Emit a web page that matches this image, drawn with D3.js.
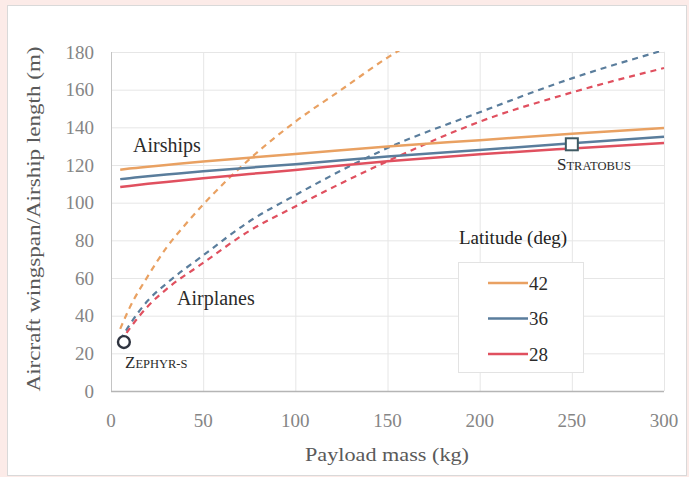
<!DOCTYPE html>
<html>
<head>
<meta charset="utf-8">
<script src="https://cdn.jsdelivr.net/npm/d3@7"></script>
<style>
  body { margin: 0; background: #fcebe8; }
  svg { display: block; font-family: 'Liberation Serif', 'Times New Roman', serif; }
</style>
</head>
<body>
<svg id="chart"></svg>
<script>
const width = 689;
const height = 477;

// data (payload in kg, length in m)
const latitudes = ['42', '36', '28'];
const colors = ['#e9a162', '#5a7d9c', '#e0505f'];

const payload = [5, 10, 20, 30, 50, 75, 100, 150, 200, 250, 300];
const airship42 = [117.5, 118.1, 119.1, 120, 121.8, 123.9, 125.8, 129.8, 133.2, 136.6, 139.7];
const airship36 = [112.5, 113, 114, 114.9, 116.7, 118.6, 120.4, 124.5, 128, 131.5, 135];
const airship28 = [108.3, 108.9, 110, 111, 113, 115.2, 117.4, 122, 125.7, 128.8, 131.7];

const planePayload42 = [5, 10, 20, 30, 40, 50, 75, 100, 125, 150, 160];
const airplane42 = [33, 44, 61, 76, 88, 99, 123, 143, 160, 177, 183];
const planePayload = [5, 10, 20, 30, 50, 75, 100, 150, 200, 250, 300];
const airplane36 = [27, 35, 48, 57, 72, 90, 104, 129, 148, 166, 181];
const airplane28 = [26, 33, 45, 54, 68, 85, 98, 122, 143, 158.5, 171.5];

const xTicks = [0, 50, 100, 150, 200, 250, 300];
const yTicks = [0, 20, 40, 60, 80, 100, 120, 140, 160, 180];

const zephyr = { name: 'Zephyr-S', x: 7, y: 26 };
const stratobus = { name: 'Stratobus', x: 250, y: 131 };

// scales
const x = d3.scaleLinear().domain([0, 300]).range([111, 664]);
const y = d3.scaleLinear().domain([0, 180]).range([391, 52]);

const svg = d3.select('#chart').attr('width', width).attr('height', height);

// page background panel
svg.append('rect')
  .attr('x', 0).attr('y', 0).attr('width', width).attr('height', height)
  .attr('fill', '#fcebe8');
svg.append('rect')
  .attr('x', 7.5).attr('y', 5.5).attr('width', 679).attr('height', 470)
  .attr('fill', '#ffffff')
  .attr('stroke', '#d9d9d9');

// grid
svg.append('g')
  .selectAll('line')
  .data(yTicks.slice(1))
  .join('line')
    .attr('x1', x(0)).attr('x2', x(300))
    .attr('y1', d => y(d) + 0.5).attr('y2', d => y(d) + 0.5)
    .attr('stroke', '#e6e6e6');
svg.append('g')
  .selectAll('line')
  .data(xTicks.slice(1))
  .join('line')
    .attr('x1', d => x(d) + 0.5).attr('x2', d => x(d) + 0.5)
    .attr('y1', y(0)).attr('y2', y(180))
    .attr('stroke', '#e6e6e6');

// axes lines
svg.append('line')
  .attr('x1', x(0) + 0.5).attr('x2', x(0) + 0.5)
  .attr('y1', y(0)).attr('y2', y(180))
  .attr('stroke', '#c4c4c4');
svg.append('line')
  .attr('x1', x(0)).attr('x2', x(300))
  .attr('y1', y(0) + 0.5).attr('y2', y(0) + 0.5)
  .attr('stroke', '#b5b5b5')
  .attr('stroke-width', 1.5);

// tick labels
svg.append('g')
  .selectAll('text')
  .data(yTicks)
  .join('text')
    .attr('x', x(0) - 17)
    .attr('y', d => y(d))
    .attr('dy', '0.35em')
    .attr('text-anchor', 'end')
    .attr('fill', '#858585')
    .style('font-size', '19px')
    .text(d => d);
svg.append('g')
  .selectAll('text')
  .data(xTicks)
  .join('text')
    .attr('x', d => x(d))
    .attr('y', 427)
    .attr('text-anchor', 'middle')
    .attr('fill', '#858585')
    .style('font-size', '19px')
    .text(d => d);

// axis titles
svg.append('text')
  .attr('x', 387)
  .attr('y', 461)
  .attr('text-anchor', 'middle')
  .attr('fill', '#5a5a5a')
  .style('font-size', '19px')
  .attr('textLength', 164)
  .attr('lengthAdjust', 'spacingAndGlyphs')
  .text('Payload mass (kg)');
svg.append('text')
  .attr('transform', 'translate(40, 219) rotate(-90)')
  .attr('text-anchor', 'middle')
  .attr('fill', '#5a5a5a')
  .style('font-size', '19px')
  .attr('textLength', 345)
  .attr('lengthAdjust', 'spacingAndGlyphs')
  .text('Aircraft wingspan/Airship  length (m)');

// curves
svg.append('clipPath').attr('id', 'plot-clip')
  .append('rect')
  .attr('x', x(0)).attr('y', y(180) - 1)
  .attr('width', x(300) - x(0) + 2).attr('height', y(0) - y(180) + 1);

const line = d3.line()
  .x(d => x(d[0]))
  .y(d => y(d[1]))
  .curve(d3.curveMonotoneX);

const airships = [airship42, airship36, airship28];
const airplanes = [
  d3.zip(planePayload42, airplane42),
  d3.zip(planePayload, airplane36),
  d3.zip(planePayload, airplane28)
];

const curves = svg.append('g').attr('clip-path', 'url(#plot-clip)');

curves.selectAll('.plane')
  .data(airplanes)
  .join('path')
    .classed('plane', true)
    .attr('fill', 'none')
    .attr('stroke', (d, i) => colors[i])
    .attr('stroke-width', 2.2)
    .attr('stroke-dasharray', '6,5')
    .attr('d', line);

curves.selectAll('.ship')
  .data(airships.map(s => d3.zip(payload, s)))
  .join('path')
    .classed('ship', true)
    .attr('fill', 'none')
    .attr('stroke', (d, i) => colors[i])
    .attr('stroke-width', 2.5)
    .attr('d', line);

// markers
svg.append('path')
  .attr('transform', `translate(${x(zephyr.x)}, ${y(zephyr.y)})`)
  .attr('d', d3.symbol(d3.symbolCircle, 110))
  .attr('fill', '#fff')
  .attr('stroke', '#2f3440')
  .attr('stroke-width', 2.4);
svg.append('rect')
  .attr('x', x(stratobus.x) - 6)
  .attr('y', y(stratobus.y) - 6)
  .attr('width', 12).attr('height', 12)
  .attr('fill', '#fff')
  .attr('stroke', '#3f5a63')
  .attr('stroke-width', 2);

// annotations
const smallCaps = (sel, word, big, small) => {
  sel.append('tspan').style('font-size', big + 'px').text(word[0].toUpperCase());
  sel.append('tspan').style('font-size', small + 'px').text(word.slice(1).toUpperCase());
};
svg.append('text')
  .attr('x', 125).attr('y', 368)
  .attr('fill', '#2b2b2b')
  .call(smallCaps, zephyr.name, 17, 12.5);
svg.append('text')
  .attr('x', 557).attr('y', 170)
  .attr('fill', '#2b2b2b')
  .call(smallCaps, stratobus.name, 17, 12.5);

svg.append('text')
  .attr('x', 133).attr('y', 152)
  .attr('fill', '#2b2b2b')
  .style('font-size', '20px')
  .text('Airships');
svg.append('text')
  .attr('x', 177).attr('y', 305)
  .attr('fill', '#2b2b2b')
  .style('font-size', '20px')
  .text('Airplanes');

// legend
const legend = svg.append('g');
legend.append('text')
  .attr('x', 459).attr('y', 244)
  .attr('fill', '#222')
  .style('font-size', '19px')
  .text('Latitude (deg)');
legend.append('rect')
  .attr('x', 458.5).attr('y', 262.5)
  .attr('width', 125).attr('height', 110)
  .attr('fill', '#fff')
  .attr('stroke', '#e3e3e3');
const items = legend.selectAll('g.item')
  .data(latitudes)
  .join('g')
    .classed('item', true)
    .attr('transform', (d, i) => `translate(488, ${283 + i * 35.5})`);
items.append('line')
  .attr('x1', 0).attr('x2', 40)
  .attr('stroke', (d, i) => colors[i])
  .attr('stroke-width', 2.5);
items.append('text')
  .attr('x', 41)
  .attr('dy', '0.35em')
  .attr('fill', '#2b2b2b')
  .style('font-size', '19px')
  .text(d => d);
</script>
</body>
</html>
